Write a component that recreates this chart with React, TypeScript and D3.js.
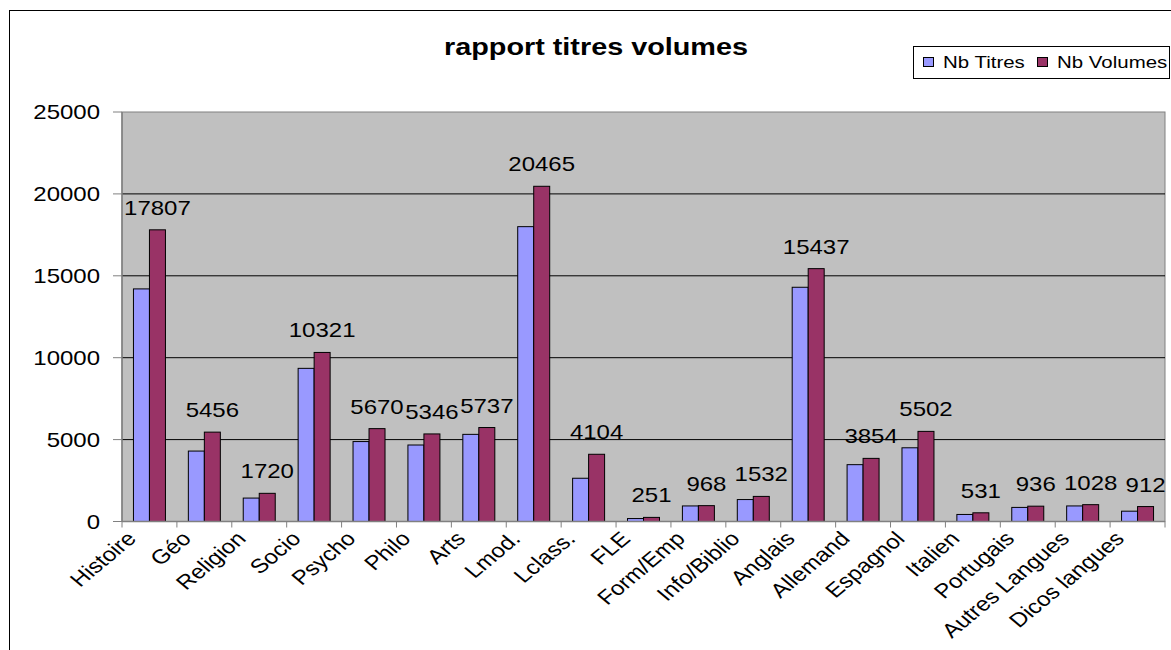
import React from "react";
import * as d3 from "d3";

const categories = ["Histoire", "Géo", "Religion", "Socio", "Psycho", "Philo", "Arts", "Lmod.", "Lclass.", "FLE", "Form/Emp", "Info/Biblio", "Anglais", "Allemand", "Espagnol", "Italien", "Portugais", "Autres Langues", "Dicos langues"];
const nbTitres = [14200, 4300, 1430, 9350, 4880, 4670, 5320, 18000, 2640, 180, 950, 1340, 14300, 3470, 4500, 430, 860, 950, 630];
const nbVolumes = [17807, 5456, 1720, 10321, 5670, 5346, 5737, 20465, 4104, 251, 968, 1532, 15437, 3854, 5502, 531, 936, 1028, 912];
const seriesNames = ["Nb Titres", "Nb Volumes"];
const seriesColors = ["#9999FF", "#993366"];
const yTicks = [0, 5000, 10000, 15000, 20000, 25000];
const title = "rapport titres volumes";

const W = 1171;
const H = 650;
const FONT = "'Liberation Sans', Arial, sans-serif";
const SX = 1.2;

export default function App() {
  const plot = { left: 122, right: 1165, top: 112, bottom: 521.5 };
  const x0 = d3.scaleBand<string>().domain(categories).range([plot.left, plot.right]).paddingInner(0).paddingOuter(0);
  const x1 = d3.scaleBand<string>().domain(seriesNames).range([0, x0.bandwidth()]).paddingInner(0).paddingOuter(0.716);
  const y = d3.scaleLinear().domain([0, 25000]).range([plot.bottom, plot.top]);
  const series = [nbTitres, nbVolumes];

  return (
    <svg width={W} height={H} style={{ position: "absolute", left: 0, top: 0, background: "#fff" }} fontFamily={FONT}>
      <defs>
        <clipPath id="lblclip">
          <rect x={0} y={531} width={W} height={H - 531} />
        </clipPath>
      </defs>
      {/* chart border */}
      <rect x={9.5} y={10.5} width={1300} height={800} fill="#fff" stroke="#000" strokeWidth={1} />
      {/* plot area */}
      <rect x={plot.left} y={plot.top} width={plot.right - plot.left} height={plot.bottom - plot.top} fill="#C0C0C0" stroke="#808080" strokeWidth={1} />
      {yTicks.filter((t) => t > 0 && t < 25000).map((t) => (
        <line key={t} x1={plot.left} x2={plot.right} y1={y(t)} y2={y(t)} stroke="#000" strokeWidth={1} />
      ))}
      {/* bars */}
      {categories.map((c, i) => (
        <g key={c}>
          {series.map((s, j) => (
            <rect
              key={j}
              x={(x0(c) as number) + (x1(seriesNames[j]) as number)}
              y={y(s[i])}
              width={x1.bandwidth()}
              height={plot.bottom - y(s[i])}
              fill={seriesColors[j]}
              stroke="#000"
              strokeWidth={1}
            />
          ))}
        </g>
      ))}
      {/* axes */}
      <line x1={plot.left} x2={plot.left} y1={plot.top} y2={plot.bottom} stroke="#808080" strokeWidth={1.5} />
      <line x1={plot.left} x2={plot.right} y1={plot.bottom} y2={plot.bottom} stroke="#808080" strokeWidth={1.5} />
      {yTicks.map((t) => (
        <g key={t}>
          <line x1={plot.left - 9} x2={plot.left} y1={y(t)} y2={y(t)} stroke="#808080" strokeWidth={1} />
          <text transform={`translate(100,${y(t) + 7}) scale(${SX},1)`} textAnchor="end" fontSize={20} fill="#000">
            {t}
          </text>
        </g>
      ))}
      {d3.range(categories.length + 1).map((k) => {
        const xx = plot.left + k * x0.step();
        return <line key={k} x1={xx} x2={xx} y1={plot.bottom} y2={plot.bottom + 6} stroke="#808080" strokeWidth={1} />;
      })}
      {/* data labels */}
      {categories.map((c, i) => {
        const cx = (x0(c) as number) + (x1(seriesNames[1]) as number) + x1.bandwidth() / 2;
        return (
          <text key={c} transform={`translate(${cx},${y(nbVolumes[i]) - 15}) scale(${SX},1)`} textAnchor="middle" fontSize={20} fill="#000">
            {nbVolumes[i]}
          </text>
        );
      })}
      {/* category labels */}
      <g clipPath="url(#lblclip)">
        {categories.map((c) => {
          const cx = (x0(c) as number) + x0.bandwidth() / 2;
          return (
            <text key={c} transform={`translate(${cx - 12},540) scale(${SX},1) rotate(-45)`} textAnchor="end" fontSize={20} fill="#000">
              {c}
            </text>
          );
        })}
      </g>
      {/* title */}
      <text transform={`translate(596,55) scale(${SX},1)`} textAnchor="middle" fontSize={24} fontWeight="bold" fill="#000">
        {title}
      </text>
      {/* legend */}
      <rect x={913.5} y={46.5} width={256} height={32} fill="#fff" stroke="#000" strokeWidth={1} />
      {seriesNames.map((n, j) => {
        const lx = j === 0 ? 923 : 1037;
        return (
          <g key={n}>
            <rect x={lx + 0.5} y={57.5} width={10} height={9} fill={seriesColors[j]} stroke="#000" strokeWidth={1} />
            <text transform={`translate(${lx + 20},68) scale(1.24,1)`} fontSize={16.5} fill="#000">
              {n}
            </text>
          </g>
        );
      })}
    </svg>
  );
}
